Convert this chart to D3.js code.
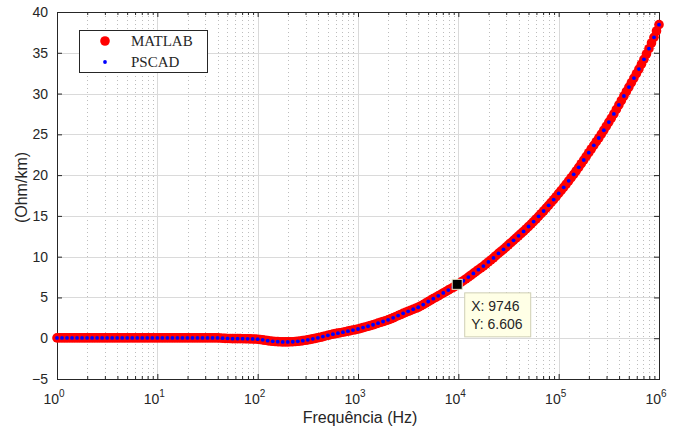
<!DOCTYPE html>
<html>
<head>
<meta charset="utf-8">
<script src="https://cdn.jsdelivr.net/npm/d3@7"></script>
<style>
  body { margin: 0; background: #fff; }
  text { font-family: "Liberation Sans", Arial, sans-serif; fill: #262626; }
</style>
</head>
<body>
<div id="chart"></div>
<script>
// MATLAB frequency points (Hz) and resistance (Ohm/km)
var matlabFreq = [
  1, 1.059, 1.122, 1.189, 1.259, 1.334, 1.413, 1.496, 1.585, 1.679, 1.778, 1.884, 1.995, 2.113, 2.239, 2.371, 2.512, 2.661, 2.818, 2.985,
  3.162, 3.350, 3.548, 3.758, 3.981, 4.217, 4.467, 4.732, 5.012, 5.309, 5.623, 5.957, 6.310, 6.683, 7.079, 7.499, 7.943, 8.414, 8.913, 9.441,
  10, 10.59, 11.22, 11.89, 12.59, 13.34, 14.13, 14.96, 15.85, 16.79, 17.78, 18.84, 19.95, 21.13, 22.39, 23.71, 25.12, 26.61, 28.18, 29.85,
  31.62, 33.50, 35.48, 37.58, 39.81, 42.17, 44.67, 47.32, 50.12, 53.09, 56.23, 59.57, 63.10, 66.83, 70.79, 74.99, 79.43, 84.14, 89.13, 94.41,
  100, 105.9, 112.2, 118.9, 125.9, 133.4, 141.3, 149.6, 158.5, 167.9, 177.8, 188.4, 199.5, 211.3, 223.9, 237.1, 251.2, 266.1, 281.8, 298.5,
  316.2, 335.0, 354.8, 375.8, 398.1, 421.7, 446.7, 473.2, 501.2, 530.9, 562.3, 595.7, 631.0, 668.3, 707.9, 749.9, 794.3, 841.4, 891.3, 944.1,
  1000, 1059, 1122, 1189, 1259, 1334, 1413, 1496, 1585, 1679, 1778, 1884, 1995, 2113, 2239, 2371, 2512, 2661, 2818, 2985,
  3162, 3350, 3548, 3758, 3981, 4217, 4467, 4732, 5012, 5309, 5623, 5957, 6310, 6683, 7079, 7499, 7943, 8414, 8913, 9441,
  10000, 10590, 11220, 11890, 12590, 13340, 14130, 14960, 15850, 16790, 17780, 18840, 19950, 21130, 22390, 23710, 25120, 26610, 28180, 29850,
  31620, 33500, 35480, 37580, 39810, 42170, 44670, 47320, 50120, 53090, 56230, 59570, 63100, 66830, 70790, 74990, 79430, 84140, 89130, 94410,
  100000, 105900, 112200, 118900, 125900, 133400, 141300, 149600, 158500, 167900, 177800, 188400, 199500, 211300, 223900, 237100, 251200, 266100, 281800, 298500,
  316200, 335000, 354800, 375800, 398100, 421700, 446700, 473200, 501200, 530900, 562300, 595700, 631000, 668300, 707900, 749900, 794300, 841400, 891300, 944100,
  1000000
];
var matlabR = [
  0.04, 0.04, 0.04, 0.04, 0.04, 0.04, 0.04, 0.04, 0.04, 0.04, 0.04, 0.04, 0.04, 0.04, 0.04, 0.04, 0.04, 0.04, 0.04, 0.04,
  0.04, 0.04, 0.04, 0.04, 0.04, 0.04, 0.04, 0.04, 0.04, 0.04, 0.04, 0.04, 0.04, 0.04, 0.04, 0.04, 0.04, 0.04, 0.04, 0.04,
  0.04, 0.04, 0.04, 0.04, 0.04, 0.04, 0.04, 0.04, 0.04, 0.04, 0.04, 0.04, 0.04, 0.04, 0.04, 0.04, 0.04, 0.04, 0.04, 0.04,
  0.04, 0.04, 0.04, 0.04, 0.04, 0.02, 0.0, -0.015, -0.03, -0.04, -0.05, -0.05, -0.05, -0.055, -0.06, -0.065, -0.07, -0.08, -0.09, -0.1,
  -0.12, -0.16, -0.2, -0.25, -0.3, -0.34, -0.38, -0.4, -0.42, -0.44, -0.45, -0.45, -0.45, -0.44, -0.43, -0.41, -0.38, -0.34, -0.3, -0.25,
  -0.2, -0.14, -0.08, -0.02, 0.05, 0.12, 0.2, 0.28, 0.36, 0.43, 0.5, 0.56, 0.62, 0.68, 0.74, 0.8, 0.87, 0.93, 1.0, 1.06,
  1.13, 1.21, 1.3, 1.38, 1.47, 1.56, 1.65, 1.75, 1.85, 1.95, 2.05, 2.15, 2.25, 2.37, 2.5, 2.64, 2.78, 2.91, 3.05, 3.17,
  3.3, 3.42, 3.55, 3.67, 3.8, 3.96, 4.13, 4.31, 4.5, 4.67, 4.85, 5.02, 5.2, 5.37, 5.55, 5.72, 5.9, 6.07, 6.25, 6.43,
  6.68, 6.86, 7.05, 7.27, 7.5, 7.72, 7.95, 8.17, 8.4, 8.62, 8.85, 9.1, 9.35, 9.6, 9.85, 10.12, 10.4, 10.65, 10.9, 11.17,
  11.45, 11.72, 12.0, 12.27, 12.55, 12.82, 13.1, 13.4, 13.7, 14.0, 14.3, 14.62, 14.95, 15.27, 15.6, 15.95, 16.3, 16.65, 17.0, 17.37,
  17.75, 18.12, 18.5, 18.9, 19.3, 19.7, 20.1, 20.52, 20.95, 21.4, 21.85, 22.3, 22.75, 23.2, 23.65, 24.1, 24.55, 25.02, 25.5, 26.0,
  26.5, 27.0, 27.5, 28.05, 28.6, 29.15, 29.7, 30.25, 30.8, 31.35, 31.9, 32.45, 33.0, 33.6, 34.2, 34.85, 35.5, 36.2, 36.9, 37.67,
  38.45
];

// PSCAD frequency points (Hz) and resistance (Ohm/km)
var pscadFreq = [
  1, 1.122, 1.259, 1.413, 1.585, 1.778, 1.995, 2.239, 2.512, 2.818, 3.162, 3.548, 3.981, 4.467, 5.012, 5.623, 6.310, 7.079, 7.943, 8.913,
  10, 11.22, 12.59, 14.13, 15.85, 17.78, 19.95, 22.39, 25.12, 28.18, 31.62, 35.48, 39.81, 44.67, 50.12, 56.23, 63.10, 70.79, 79.43, 89.13,
  100, 112.2, 125.9, 141.3, 158.5, 177.8, 199.5, 223.9, 251.2, 281.8, 316.2, 354.8, 398.1, 446.7, 501.2, 562.3, 631.0, 707.9, 794.3, 891.3,
  1000, 1122, 1259, 1413, 1585, 1778, 1995, 2239, 2512, 2818, 3162, 3548, 3981, 4467, 5012, 5623, 6310, 7079, 7943, 8913,
  9746, 11220, 12590, 14130, 15850, 17780, 19950, 22390, 25120, 28180, 31620, 35480, 39810, 44670, 50120, 56230, 63100, 70790, 79430, 89130,
  100000, 112200, 125900, 141300, 158500, 177800, 199500, 223900, 251200, 281800, 316200, 354800, 398100, 446700, 501200, 562300, 631000, 707900, 794300, 891300,
  1000000
];
var pscadR = [
  0.04, 0.04, 0.04, 0.04, 0.04, 0.04, 0.04, 0.04, 0.04, 0.04, 0.04, 0.04, 0.04, 0.04, 0.04, 0.04, 0.04, 0.04, 0.04, 0.04,
  0.04, 0.04, 0.04, 0.04, 0.04, 0.04, 0.04, 0.04, 0.04, 0.04, 0.04, 0.04, 0.04, 0.0, -0.03, -0.05, -0.05, -0.06, -0.07, -0.09,
  -0.12, -0.2, -0.3, -0.38, -0.42, -0.45, -0.45, -0.43, -0.38, -0.3, -0.2, -0.08, 0.05, 0.2, 0.36, 0.5, 0.62, 0.74, 0.87, 1.0,
  1.13, 1.3, 1.47, 1.65, 1.85, 2.05, 2.25, 2.5, 2.78, 3.05, 3.3, 3.55, 3.8, 4.13, 4.5, 4.85, 5.2, 5.55, 5.9, 6.25,
  6.606, 7.05, 7.5, 7.95, 8.4, 8.85, 9.35, 9.85, 10.4, 10.9, 11.45, 12.0, 12.55, 13.1, 13.7, 14.3, 14.95, 15.6, 16.3, 17.0,
  17.75, 18.5, 19.3, 20.1, 20.95, 21.85, 22.75, 23.65, 24.55, 25.5, 26.5, 27.5, 28.6, 29.7, 30.8, 31.9, 33.0, 34.2, 35.5, 36.9,
  38.45
];

var yTicks = [-5, 0, 5, 10, 15, 20, 25, 30, 35, 40];
var xTickExps = [0, 1, 2, 3, 4, 5, 6];
var seriesNames = ["MATLAB", "PSCAD"];
var tipPoint = { x: 9746, y: 6.606 };

var W = 687, H = 427;
var margin = { top: 12, right: 28, bottom: 48, left: 57 };
var width = W - margin.left - margin.right,
    height = H - margin.top - margin.bottom;

var svg = d3.select("#chart").append("svg")
    .attr("width", W)
    .attr("height", H);

var g = svg.append("g")
    .attr("transform", "translate(" + margin.left + "," + margin.top + ")");

var x = d3.scaleLog().domain([1, 1e6]).range([0, width]);
var y = d3.scaleLinear().domain([-5, 40]).range([height, 0]);

// minor grid (dotted, x only)
var minorVals = [];
xTickExps.slice(0, -1).forEach(function (e) {
    for (var m = 2; m <= 9; m++) minorVals.push(m * Math.pow(10, e));
});

g.append("g").selectAll("line")
    .data(minorVals)
    .enter().append("line")
    .attr("x1", function (d) { return Math.round(x(d)) + 0.5; })
    .attr("x2", function (d) { return Math.round(x(d)) + 0.5; })
    .attr("y1", 0).attr("y2", height)
    .attr("stroke", "#bdbdbd")
    .attr("stroke-dasharray", "1,3");

// major grid
var majorX = xTickExps.map(function (e) { return Math.pow(10, e); });
g.append("g").selectAll("line")
    .data(majorX)
    .enter().append("line")
    .attr("x1", function (d) { return Math.round(x(d)) + 0.5; })
    .attr("x2", function (d) { return Math.round(x(d)) + 0.5; })
    .attr("y1", 0).attr("y2", height)
    .attr("stroke", "#dadada");
g.append("g").selectAll("line")
    .data(yTicks)
    .enter().append("line")
    .attr("x1", 0).attr("x2", width)
    .attr("y1", function (d) { return Math.round(y(d)) + 0.5; })
    .attr("y2", function (d) { return Math.round(y(d)) + 0.5; })
    .attr("stroke", "#dadada");

// axes with inward ticks
var xAxisB = d3.axisBottom(x).tickValues(majorX).tickSizeInner(-5).tickSizeOuter(0).tickFormat("");
var xAxisT = d3.axisTop(x).tickValues(majorX).tickSizeInner(-5).tickSizeOuter(0).tickFormat("");
var xMinB = d3.axisBottom(x).tickValues(minorVals).tickSizeInner(-3).tickSizeOuter(0).tickFormat("");
var xMinT = d3.axisTop(x).tickValues(minorVals).tickSizeInner(-3).tickSizeOuter(0).tickFormat("");
var yAxisL = d3.axisLeft(y).tickValues(yTicks).tickSizeInner(-5).tickSizeOuter(0).tickPadding(9);
var yAxisR = d3.axisRight(y).tickValues(yTicks).tickSizeInner(-5).tickSizeOuter(0).tickFormat("");

[[xAxisB, height], [xMinB, height], [xAxisT, 0], [xMinT, 0]].forEach(function (a) {
    g.append("g")
        .attr("class", "axis")
        .attr("transform", "translate(0," + a[1] + ")")
        .call(a[0]);
});
g.append("g").attr("class", "axis yl").call(yAxisL);
g.append("g").attr("class", "axis").attr("transform", "translate(" + width + ",0)").call(yAxisR);

g.selectAll(".axis .domain").remove();
g.selectAll(".axis line").attr("stroke", "#262626");
g.selectAll(".yl text")
    .style("font-size", "14px")
    .attr("fill", "#262626");

// frame
g.append("rect")
    .attr("x", 0.5).attr("y", 0.5)
    .attr("width", width).attr("height", height)
    .attr("fill", "none")
    .attr("stroke", "#262626");

// x tick labels 10^n
var xl = g.append("g").selectAll("text")
    .data(xTickExps)
    .enter().append("text")
    .attr("x", function (d) { return x(Math.pow(10, d)) - 3; })
    .attr("y", height + 25)
    .attr("text-anchor", "middle")
    .style("font-size", "14px");
xl.append("tspan").text("10");
xl.append("tspan")
    .attr("dy", -7)
    .style("font-size", "10px")
    .text(function (d) { return d; });

// axis titles
svg.append("text")
    .attr("x", margin.left + width / 2 + 2)
    .attr("y", H - 4)
    .attr("text-anchor", "middle")
    .style("font-size", "16px")
    .text("Frequência (Hz)");

svg.append("text")
    .attr("transform", "translate(27," + (margin.top + height / 2 - 8) + ") rotate(-90)")
    .attr("text-anchor", "middle")
    .style("font-size", "16px")
    .text("(Ohm/km)");

// series
var mPts = matlabFreq.map(function (f, i) { return { f: f, v: matlabR[i] }; });
var pPts = pscadFreq.map(function (f, i) { return { f: f, v: pscadR[i] }; });

g.append("g").selectAll("circle")
    .data(mPts)
    .enter().append("circle")
    .attr("cx", function (d) { return x(d.f); })
    .attr("cy", function (d) { return y(d.v); })
    .attr("r", 4.8)
    .attr("fill", "#ff0000");

g.append("g").selectAll("circle")
    .data(pPts)
    .enter().append("circle")
    .attr("cx", function (d) { return x(d.f); })
    .attr("cy", function (d) { return y(d.v); })
    .attr("r", 1.9)
    .attr("fill", "#0000ff");

// data tip
var tx = x(tipPoint.x), ty = y(tipPoint.y);
g.append("rect")
    .attr("x", tx - 5).attr("y", ty - 5)
    .attr("width", 10).attr("height", 10)
    .attr("fill", "#000")
    .attr("stroke", "#e8e4c8")
    .attr("stroke-width", 1);

var tip = g.append("g")
    .attr("transform", "translate(" + (tx + 7) + "," + (ty + 8) + ")");
tip.append("rect")
    .attr("x", 0.5).attr("y", 0.5)
    .attr("width", 66).attr("height", 44)
    .attr("fill", "#ffffe6")
    .attr("stroke", "#cfcfb5");
tip.append("text").attr("x", 7).attr("y", 19).style("font-size", "14px")
    .text("X: " + tipPoint.x);
tip.append("text").attr("x", 7).attr("y", 37).style("font-size", "14px")
    .text("Y: " + tipPoint.y);

// legend
var legend = g.append("g").attr("transform", "translate(22,18)");
legend.append("rect")
    .attr("x", 0.5).attr("y", 0.5)
    .attr("width", 128).attr("height", 42)
    .attr("fill", "#fff")
    .attr("stroke", "#262626");

var items = legend.selectAll(".lg")
    .data(seriesNames)
    .enter().append("g")
    .attr("class", "lg")
    .attr("transform", function (d, i) { return "translate(0," + (11 + i * 21) + ")"; });
items.append("circle")
    .attr("cx", 26)
    .attr("r", function (d, i) { return i === 0 ? 4.8 : 1.9; })
    .attr("fill", function (d, i) { return i === 0 ? "#ff0000" : "#0000ff"; });
items.append("text")
    .attr("x", 52)
    .attr("y", 5)
    .style("font-family", "'Liberation Serif', 'Times New Roman', serif")
    .style("font-size", "15px")
    .text(function (d) { return d; });
</script>
</body>
</html>
